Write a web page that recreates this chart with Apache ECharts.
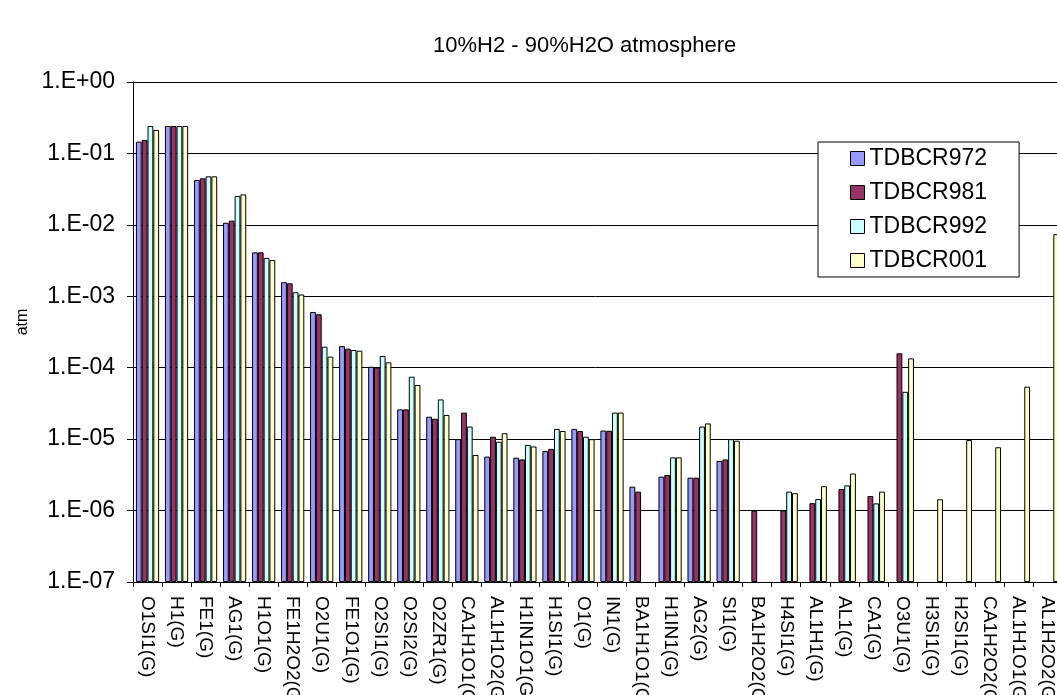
<!DOCTYPE html>
<html>
<head>
<meta charset="utf-8">
<script src="https://cdn.jsdelivr.net/npm/echarts@6/dist/echarts.min.js"></script>
<style>
html,body{margin:0;padding:0;background:#fff;}
#chart{width:1057px;height:695px;}
</style>
</head>
<body>
<div id="chart"></div>
<script>
const categories = ['O1SI1(G)','H1(G)','FE1(G)','AG1(G)','H1O1(G)','FE1H2O2(G)','O2U1(G)','FE1O1(G)','O2SI1(G)','O2SI2(G)','O2ZR1(G)','CA1H1O1(G)','AL1H1O2(G)','H1IN1O1(G)','H1SI1(G)','O1(G)','IN1(G)','BA1H1O1(G)','H1IN1(G)','AG2(G)','SI1(G)','BA1H2O2(G)','H4SI1(G)','AL1H1(G)','AL1(G)','CA1(G)','O3U1(G)','H3SI1(G)','H2SI1(G)','CA1H2O2(G)','AL1H1O1(G)','AL1H2O2(G)'];
const seriesNames = ['TDBCR972','TDBCR981','TDBCR992','TDBCR001'];
const tdbcr972 = [0.146,0.242,0.0425,0.0107,0.00412,0.00157,0.000603,0.000201,0.000103,2.61e-5,2.06e-5,1.0e-5,5.7e-6,5.5e-6,6.8e-6,1.39e-5,1.32e-5,2.16e-6,2.98e-6,2.89e-6,4.94e-6,null,null,null,null,null,null,null,null,null,null,null];
const tdbcr981 = [0.154,0.242,0.0448,0.01145,0.00412,0.00152,0.00056,0.000185,0.000101,2.61e-5,1.93e-5,2.35e-5,1.08e-5,5.2e-6,7.3e-6,1.3e-5,1.31e-5,1.84e-6,3.15e-6,2.89e-6,5.2e-6,1.0e-6,1.0e-6,1.27e-6,2.0e-6,1.6e-6,1.59e-4,null,null,null,null,null];
const tdbcr992 = [0.242,0.242,0.0478,0.0254,0.00344,0.00114,0.000197,0.000177,0.000146,7.48e-5,3.6e-5,1.5e-5,9.2e-6,8.3e-6,1.39e-5,1.08e-5,2.35e-5,null,5.56e-6,1.5e-5,1.0e-5,null,1.84e-6,1.45e-6,2.25e-6,1.26e-6,4.6e-5,null,null,null,null,null];
const tdbcr001 = [0.213,0.242,0.0478,0.0267,0.00322,0.00106,0.000143,0.000173,0.000119,5.73e-5,2.18e-5,6.0e-6,1.21e-5,7.9e-6,1.3e-5,1.0e-5,2.35e-5,null,5.56e-6,1.66e-5,9.5e-6,null,1.75e-6,2.2e-6,3.3e-6,1.84e-6,1.35e-4,1.44e-6,9.7e-6,7.7e-6,5.43e-5,7.4e-3];
const seriesData = [tdbcr972, tdbcr981, tdbcr992, tdbcr001];
const colors = ['#9999FF','#993366','#CCFFFF','#FFFFCC'];

const FONT = '"Liberation Sans", Arial, sans-serif';
const chart = echarts.init(document.getElementById('chart'), null, {renderer:'canvas'});
chart.setOption({
  backgroundColor:'#ffffff',
  animation:false,
  title:{
    text:'10%H2 - 90%H2O atmosphere',
    left:428, top:30,
    textStyle:{fontFamily:FONT,fontSize:22,fontWeight:'normal',color:'#000'}
  },
  legend:{
    orient:'vertical',
    left:818, top:142,
    padding:[5,32,5,32],
    itemGap:11,
    itemWidth:14, itemHeight:14,
    icon:'rect',
    backgroundColor:'#fff',
    borderColor:'#000', borderWidth:1,
    textStyle:{fontFamily:FONT,fontSize:23,color:'#000'},
    itemStyle:{borderColor:'#000',borderWidth:1},
    data:seriesNames
  },
  grid:{left:133, top:82, right:-5, bottom:113, containLabel:false, outerBoundsMode:'none'},
  xAxis:{
    type:'category',
    data:categories,
    boundaryGap:true,
    axisLine:{lineStyle:{color:'#000',width:1}},
    axisTick:{show:true,length:5,lineStyle:{color:'#000'},alignWithLabel:false,interval:0},
    axisLabel:{interval:0,rotate:-90,margin:14,fontFamily:FONT,fontSize:19,color:'#000'},
    splitLine:{show:false}
  },
  yAxis:{
    type:'log',
    logBase:10,
    min:1e-7, max:1,
    interval:1,
    startValue:1e-7,
    name:'atm',
    nameLocation:'middle',
    nameGap:102,
    nameRotate:90,
    nameTextStyle:{fontFamily:FONT,fontSize:16,color:'#000',padding:[0,0,0,20]},
    axisLine:{show:true,lineStyle:{color:'#000',width:1}},
    axisTick:{show:true,length:6,lineStyle:{color:'#000'}},
    minorTick:{show:false},
    axisLabel:{
      margin:18,fontFamily:FONT,fontSize:23,color:'#000',
      formatter:function(v){
        const e = Math.round(Math.log10(v));
        return '1.E' + (e < 0 ? '-' : '+') + String(Math.abs(e)).padStart(2,'0');
      }
    },
    splitLine:{show:true,lineStyle:{color:'#000',width:1}}
  },
  series: seriesNames.map(function(n,i){
    return {
      name:n, type:'bar',
      data:seriesData[i],
      barGap:'0%', barCategoryGap:'20%',
      itemStyle:{color:colors[i],borderColor:'#000',borderWidth:1},
      emphasis:{disabled:true}
    };
  })
});
</script>
</body>
</html>
